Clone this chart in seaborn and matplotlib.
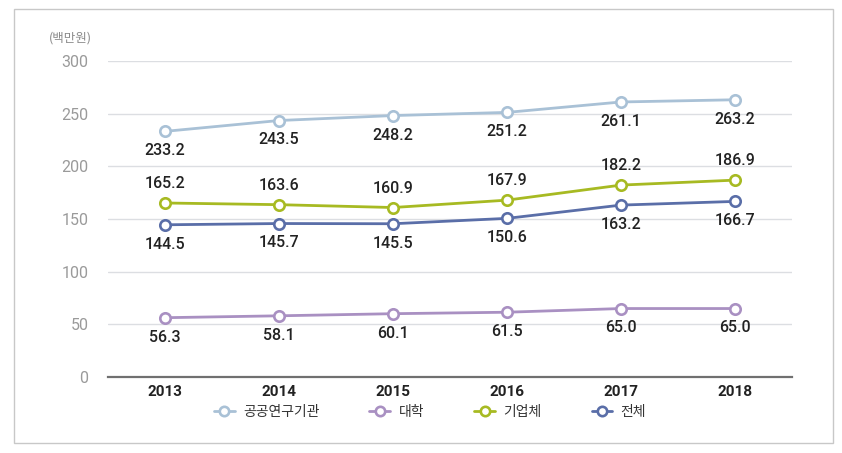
import matplotlib
matplotlib.use("Agg")
import matplotlib.pyplot as plt
import seaborn as sns
import pandas as pd
from matplotlib.patches import Rectangle

years = ["2013", "2014", "2015", "2016", "2017", "2018"]
public_inst = [233.2, 243.5, 248.2, 251.2, 261.1, 263.2]
university = [56.3, 58.1, 60.1, 61.5, 65.0, 65.0]
company = [165.2, 163.6, 160.9, 167.9, 182.2, 186.9]
total = [144.5, 145.7, 145.5, 150.6, 163.2, 166.7]
series_names = ["공공연구기관", "대학", "기업체", "전체"]
yticks = [0, 50, 100, 150, 200, 250, 300]

sns.set_theme(style="white")
plt.rcParams['font.family'] = ['Noto Sans CJK KR', 'DejaVu Sans']

colors = ["#a9c1d6", "#a990c2", "#a7ba22", "#5a6ea8"]
label_offsets = [-14, -14, 14, -14]
series_vals = [public_inst, university, company, total]

rows = []
for name, vals in zip(series_names, series_vals):
    for i, (y, v) in enumerate(zip(years, vals)):
        rows.append({"year": y, "x": i, "value": v, "series": name})
df = pd.DataFrame(rows)

fig = plt.figure(figsize=(8.42, 4.53), dpi=100)
ax = fig.add_axes([108/842, 1-377/453, (792-108)/842, (377-61)/453])

for name, col in zip(series_names, colors):
    sub = df[df.series == name]
    sns.lineplot(data=sub, x="x", y="value", ax=ax, color=col, linewidth=2.0,
                 marker="o", markersize=7.5, markerfacecolor="white",
                 markeredgecolor=col, markeredgewidth=1.9, label=name, legend=False)

for name, off in zip(series_names, label_offsets):
    sub = df[df.series == name]
    for _, r in sub.iterrows():
        ax.annotate(f"{r.value:.1f}", (r.x, r.value), xytext=(0, off),
                    textcoords="offset points", ha="center", va="center",
                    fontsize=11.5, color="#222222", fontweight="medium",
                    family=["Roboto", "DejaVu Sans"])

ax.set_xlim(-0.5, 5.5)
ax.set_ylim(0, 300)
ax.set_yticks(yticks)
ax.set_yticklabels([str(t) for t in yticks], color="#9a9a9a", fontsize=11.5,
                   family=["Roboto", "DejaVu Sans"])
ax.set_xticks(range(len(years)))
ax.set_xticklabels(years, fontsize=11, fontweight="bold", color="#222222",
                   family=["Roboto", "DejaVu Sans"])
ax.set_xticks([i - 0.5 for i in range(len(years) + 1)], minor=True)
ax.tick_params(axis="x", which="major", length=0, pad=6)
ax.tick_params(axis="x", which="minor", length=4, direction="inout", color="#666666", width=1.2)
ax.tick_params(axis="y", length=0, pad=14)
ax.set_xlabel("")
ax.set_ylabel("")
for y in yticks[1:]:
    ax.axhline(y, color="#dcdee2", linewidth=1, zorder=0)
for s in ["top", "right", "left"]:
    ax.spines[s].set_visible(False)
ax.spines["bottom"].set_color("#707070")
ax.spines["bottom"].set_linewidth(1.6)

fig.text(70/842, 1-38/453, "(백만원)", ha="center", va="center", fontsize=9, color="#8a8a8a")

handles, labels = ax.get_legend_handles_labels()
leg = fig.legend(handles, labels, loc="center", bbox_to_anchor=(430/842, 1-412/453), ncol=4,
                 frameon=False, fontsize=10, handlelength=1.5, columnspacing=3.6,
                 handletextpad=0.6, markerscale=0.9)
for t in leg.get_texts():
    t.set_color("#333333")
    t.set_fontweight("medium")

fig.patches.append(Rectangle((14/842, 1-443/453), (833-14)/842, (443-9)/453,
                             transform=fig.transFigure, fill=False, edgecolor="#c8c8c8",
                             linewidth=1))

fig.savefig("out.png", dpi=100)
